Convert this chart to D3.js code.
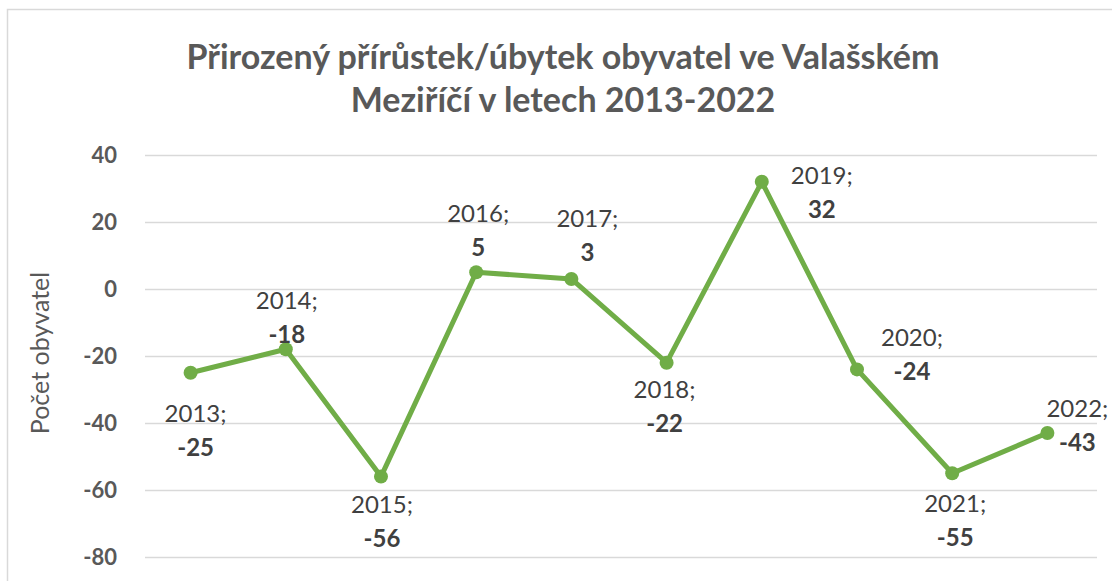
<!DOCTYPE html>
<html>
<head>
<meta charset="utf-8">
<script src="https://cdn.jsdelivr.net/npm/d3@7"></script>
<style>
  body { margin: 0; background: #fff; }
  svg { font-family: Lato, "Open Sans", sans-serif; }
</style>
</head>
<body>
<script>
var years = ["2013", "2014", "2015", "2016", "2017", "2018", "2019", "2020", "2021", "2022"];
var values = [-25, -18, -56, 5, 3, -22, 32, -24, -55, -43];
var yTicks = [40, 20, 0, -20, -40, -60, -80];
var titleLines = ["Přirozený přírůstek/úbytek obyvatel ve Valašském", "Meziříčí v letech 2013-2022"];
var yTitle = "Počet obyvatel";
// where each data label sits relative to its point
var labelPlace = [[5, 40], [1, -49], [1, 27], [2, -59], [16, -61], [-2, 26], [60, -7], [55, -32], [3, 30], [30, -25]];

var W = 1112, H = 581;
var margin = { top: 155, right: 17, bottom: 24, left: 143 };

var svg = d3.select("body").append("svg")
  .attr("width", W)
  .attr("height", H);

// chart frame
svg.append("rect")
  .attr("x", 7.5).attr("y", 9.5)
  .attr("width", W + 20).attr("height", H + 20)
  .attr("fill", "none")
  .attr("stroke", "#d9d9d9")
  .attr("stroke-width", 1.5);

var x = d3.scaleBand()
  .domain(years)
  .range([margin.left, W - margin.right]);

var y = d3.scaleLinear()
  .domain([-80, 40])
  .range([H - margin.bottom, margin.top]);

// title
svg.append("text")
  .attr("text-anchor", "middle")
  .attr("fill", "#595959")
  .attr("font-size", "34px")
  .attr("font-weight", "bold")
  .selectAll("tspan")
  .data(titleLines)
  .enter().append("tspan")
  .attr("x", 563)
  .attr("y", function (d, i) { return 69 + i * 43; })
  .text(function (d) { return d; });

// grid lines
var yAxis = d3.axisLeft(y)
  .tickValues(yTicks)
  .tickSize(-(W - margin.right - margin.left))
  .tickPadding(28)
  .tickFormat(function (d) { return String(d); });

var gy = svg.append("g")
  .attr("transform", "translate(" + (margin.left + 2) + ",0)")
  .call(yAxis);
gy.select(".domain").remove();
gy.selectAll(".tick line")
  .attr("stroke", "#d9d9d9")
  .attr("stroke-width", 1.5);
gy.selectAll(".tick text")
  .attr("fill", "#595959")
  .attr("font-size", "22px")
  .attr("font-weight", "bold")
  .attr("font-family", "Lato, sans-serif");

// y axis title
svg.append("text")
  .attr("transform", "translate(49,353) rotate(-90)")
  .attr("text-anchor", "middle")
  .attr("fill", "#595959")
  .attr("font-size", "25px")
  .text(yTitle);

var data = years.map(function (d, i) { return { year: d, value: values[i], place: labelPlace[i] }; });
var cx = function (d) { return x(d.year) + x.bandwidth() / 2; };

var line = d3.line()
  .x(cx)
  .y(function (d) { return y(d.value); });

svg.append("path")
  .datum(data)
  .attr("d", line)
  .attr("fill", "none")
  .attr("stroke", "#70ad47")
  .attr("stroke-width", 5)
  .attr("stroke-linejoin", "round");

svg.selectAll(".dot")
  .data(data)
  .enter().append("circle")
  .attr("class", "dot")
  .attr("cx", cx)
  .attr("cy", function (d) { return y(d.value); })
  .attr("r", 7)
  .attr("fill", "#70ad47");

var labels = svg.selectAll(".lbl")
  .data(data)
  .enter().append("text")
  .attr("class", "lbl")
  .attr("text-anchor", "middle")
  .attr("fill", "#404040")
  .attr("font-size", "24px");

labels.append("tspan")
  .attr("x", function (d) { return cx(d) + d.place[0]; })
  .attr("y", function (d) { return y(d.value) + d.place[1] + 9; })
  .text(function (d) { return d.year + ";"; });

labels.append("tspan")
  .attr("x", function (d) { return cx(d) + d.place[0]; })
  .attr("y", function (d) { return y(d.value) + d.place[1] + 43; })
  .attr("font-weight", "bold")
  .text(function (d) { return d.value; });
</script>
</body>
</html>
